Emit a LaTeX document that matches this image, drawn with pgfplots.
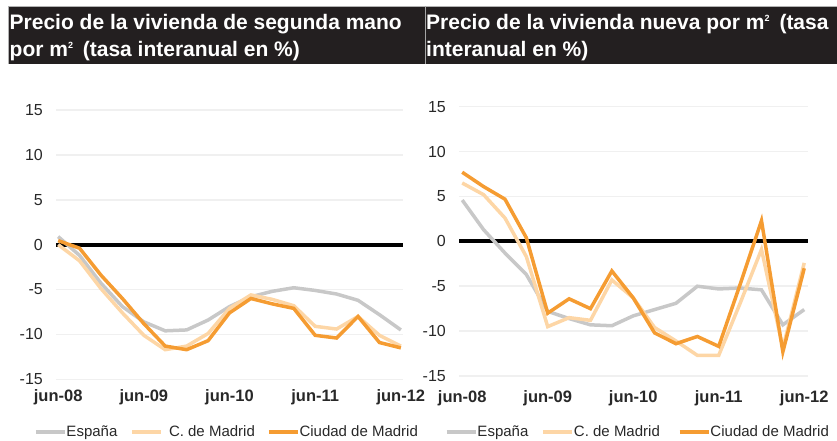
\documentclass[border=0pt]{standalone}
\usepackage{pgfplots}
\usepackage{pgfplotstable}
\pgfplotsset{compat=1.18}
\usepackage{fontspec}
\setmainfont{Liberation Sans}
\definecolor{colEsp}{RGB}{200,200,200}
\definecolor{colCM}{RGB}{253,214,166}
\definecolor{colCDM}{RGB}{245,156,50}
\definecolor{titlebg}{RGB}{35,31,32}
\definecolor{gridc}{RGB}{240,240,240}
\definecolor{txt}{RGB}{40,40,40}

\pgfplotstableread{
idx esp cm cdm
0 0.9 0.0 0.45
1 -1.2 -1.8 -0.4
2 -4.3 -4.9 -3.4
3 -6.9 -7.6 -6.0
4 -8.6 -10.1 -8.8
5 -9.6 -11.7 -11.3
6 -9.5 -11.3 -11.7
7 -8.4 -9.9 -10.7
8 -6.9 -7.1 -7.6
9 -5.8 -5.6 -6.0
10 -5.2 -6.1 -6.6
11 -4.8 -6.8 -7.1
12 -5.1 -9.1 -10.1
13 -5.5 -9.4 -10.4
14 -6.2 -8.0 -8.0
15 -7.8 -10.1 -10.9
16 -9.5 -11.3 -11.5
}\leftdata

\pgfplotstableread{
idx esp cm cdm
0 4.6 6.5 7.7
1 1.3 5.2 6.1
2 -1.3 2.6 4.7
3 -3.7 -1.7 0.4
4 -7.8 -9.5 -8.0
5 -8.6 -8.5 -6.4
6 -9.3 -8.8 -7.5
7 -9.4 -4.3 -3.3
8 -8.3 -6.3 -6.3
9 -7.6 -9.6 -10.2
10 -6.9 -11.1 -11.4
11 -5.0 -12.7 -10.6
12 -5.3 -12.7 -11.7
13 -5.2 -6.9 -4.8
14 -5.4 -0.9 2.3
15 -9.3 -11.9 -12.3
16 -7.6 -2.4 -3.0
}\rightdata

\pgfplotsset{
  myaxis/.style={
    scale only axis,
    ymin=-15, ymax=15,
    axis line style={draw=none},
    major tick length=0pt,
    ytick={-15,-10,-5,0,5,10,15},
    yticklabels={-15,-10,-5,0,5,10,15},
    ymajorgrids,
    grid style={gridc, line width=1.5pt},
    xtick={0,4,8,12,16},
    xticklabels={jun-08,jun-09,jun-10,jun-11,jun-12},
    yticklabel style={font=\fontsize{16}{18}\selectfont, text=txt, anchor=east, inner sep=0pt, xshift=-13pt},
    legend columns=3,
    legend image code/.code={\draw[#1] (0pt,0pt) -- (29pt,0pt);},
    legend style={draw=none, fill=none, inner sep=0pt, outer sep=0pt,
      font=\fontsize{15}{17}\selectfont, text=txt,
      nodes={inner sep=0pt},
      /tikz/every odd column/.append style={column sep=0pt},
      /tikz/every even column/.append style={column sep=0pt}},
  },
  espS/.style={colEsp, line width=3.5pt},
  cmS/.style={colCM, line width=3.5pt},
  cdmS/.style={colCDM, line width=3.5pt},
}

\begin{document}
\begin{tikzpicture}
\useasboundingbox (0pt,-441pt) rectangle (837pt,0pt);
% title bands
\fill[titlebg] (8pt,-6pt) rectangle (837pt,-64pt);
\draw[gray!60, line width=0.8pt] (8pt,-64pt) -- (8pt,-6pt) -- (837pt,-6pt);
\draw[gray!70, line width=0.8pt] (425.3pt,-6pt) -- (425.3pt,-64pt);
\node[anchor=base west, inner sep=0pt, text=white, font=\fontsize{21}{26}\selectfont\bfseries] at (9.5pt,-29.3pt) {Precio de la vivienda de segunda mano};
\node[anchor=base west, inner sep=0pt, text=white, font=\fontsize{21}{26}\selectfont\bfseries] at (9.5pt,-57pt) {por m\raisebox{8pt}{\fontsize{9}{9}\selectfont 2}\hspace{4pt} (tasa interanual en \%)};
\node[anchor=base west, inner sep=0pt, text=white, font=\fontsize{21}{26}\selectfont\bfseries] at (426pt,-29.3pt) {Precio de la vivienda nueva por m\raisebox{8pt}{\fontsize{9}{9}\selectfont 2}\hspace{4pt} (tasa};
\node[anchor=base west, inner sep=0pt, text=white, font=\fontsize{21}{26}\selectfont\bfseries] at (426pt,-57pt) {interanual en \%)};

% left chart
\begin{axis}[myaxis,
  at={(56pt,-379.3pt)}, anchor=south west,
  width=347pt, height=269.3pt,
  xmin=-0.1, xmax=16.1,
  xticklabel style={font=\fontsize{16.5}{18}\selectfont\bfseries, text=txt, anchor=base, inner sep=0pt, yshift=-21.7pt},
  legend style={at={(-0.0634,-0.1957)}, anchor=west},
]
\addplot[black, line width=4pt, forget plot] coordinates {(-0.1,0) (16.1,0)};
\addplot[espS] table[x=idx, y=esp] {\leftdata};
\addlegendentry{\makebox[64pt][l]{España}}
\addplot[cmS] table[x=idx, y=cm] {\leftdata};
\addlegendentry{\makebox[104pt][l]{\hspace{6pt}C. de Madrid}}
\addplot[cdmS] table[x=idx, y=cdm] {\leftdata};
\addlegendentry{Ciudad de Madrid}
\end{axis}

% right chart
\begin{axis}[myaxis,
  at={(459pt,-376pt)}, anchor=south west,
  width=349.3pt, height=269.3pt,
  xmin=-0.15, xmax=16.19,
  xticklabel style={font=\fontsize{16.5}{18}\selectfont\bfseries, text=txt, anchor=base, inner sep=0pt, yshift=-26.7pt},
  legend style={at={(-0.0401,-0.208)}, anchor=west},
]
\addplot[black, line width=4pt, forget plot] coordinates {(-0.15,0) (16.19,0)};
\addplot[espS] table[x=idx, y=esp] {\rightdata};
\addlegendentry{\makebox[64pt][l]{España}}
\addplot[cmS] table[x=idx, y=cm] {\rightdata};
\addlegendentry{\makebox[104pt][l]{C. de Madrid}}
\addplot[cdmS] table[x=idx, y=cdm] {\rightdata};
\addlegendentry{Ciudad de Madrid}
\end{axis}
\end{tikzpicture}
\end{document}
